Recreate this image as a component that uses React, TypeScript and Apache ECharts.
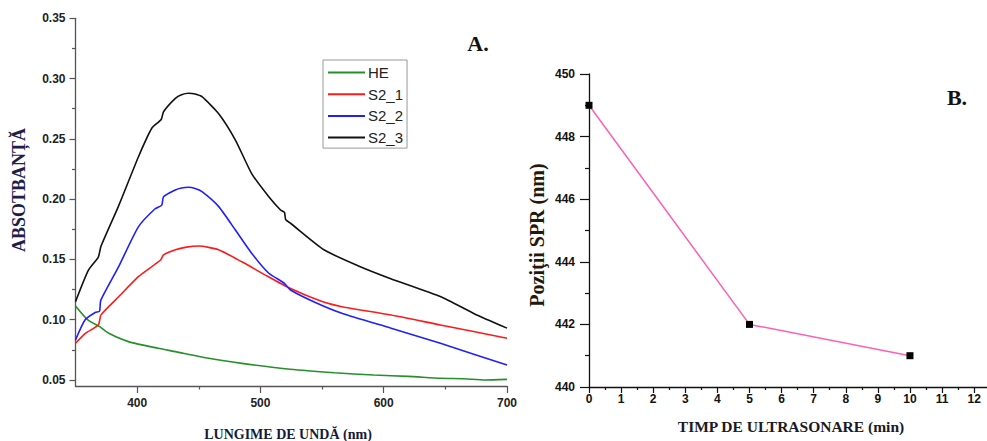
import React, { useEffect, useRef } from "react";
import * as echarts from "echarts";

// ---- Panel A: absorbance spectra ----
const heNm = [350, 360, 370, 377, 393, 417, 431, 458, 485, 524, 560, 592, 620, 646, 665, 682, 700];
const heAbs = [0.1114, 0.0998, 0.094, 0.0887, 0.0818, 0.0763, 0.0735, 0.068, 0.0638, 0.0589, 0.056, 0.0541, 0.053, 0.0514, 0.051, 0.05, 0.0505];

const s21Nm = [350, 358, 368.5, 370.7, 385, 401, 419, 421.4, 431, 440, 450, 466, 485, 504, 524, 550, 566, 606, 646, 700];
const s21Abs = [0.0804, 0.0887, 0.0956, 0.104, 0.119, 0.1357, 0.1495, 0.1537, 0.158, 0.1602, 0.1611, 0.158, 0.148, 0.137, 0.126, 0.115, 0.1108, 0.1039, 0.0956, 0.0846];

const s22Nm = [350, 357.7, 366, 369.5, 370.5, 385, 401, 414.6, 420, 421.4, 431, 436, 441.7, 447, 452.6, 466, 479.7, 493, 506.8, 517.6, 520.5, 524.4, 545, 566, 606, 646, 700];
const s22Abs = [0.0832, 0.0998, 0.106, 0.107, 0.116, 0.144, 0.177, 0.192, 0.195, 0.202, 0.2076, 0.2092, 0.2098, 0.2088, 0.2062, 0.194, 0.1744, 0.155, 0.1385, 0.1315, 0.129, 0.1246, 0.114, 0.1053, 0.0929, 0.0804, 0.0624];

const s23Nm = [350, 360.4, 368.5, 370.7, 384.8, 401, 412, 419.5, 421.4, 431, 436, 441.7, 447, 452.6, 466, 479.7, 493, 506.8, 516.3, 519.5, 520.5, 524.4, 551.5, 578.6, 605.7, 646.3, 673.4, 700];
const s23Abs = [0.115, 0.141, 0.152, 0.161, 0.194, 0.235, 0.259, 0.266, 0.2725, 0.2836, 0.2866, 0.2878, 0.2872, 0.285, 0.271, 0.249, 0.221, 0.202, 0.191, 0.189, 0.183, 0.18, 0.158, 0.145, 0.134, 0.119, 0.105, 0.093];

const absTicks = [0.05, 0.1, 0.15, 0.2, 0.25, 0.3, 0.35];
const absMinorTicks = [0.075, 0.125, 0.175, 0.225, 0.275, 0.325];
const nmTicks = [400, 500, 600, 700];
const nmMinorTicks = [450, 550, 650];

// ---- Panel B: SPR position vs. sonication time ----
const timeMin = [0, 5, 10];
const sprNm = [449, 442, 441];
const sprTicks = [440, 442, 444, 446, 448, 450];
const sprMinorTicks = [441, 443, 445, 447, 449];
const timeTicks = [0, 1, 2, 3, 4, 5, 6, 7, 8, 9, 10, 11, 12];
const timeMinorTicks = [0.5, 1.5, 2.5, 3.5, 4.5, 5.5, 6.5, 7.5, 8.5, 9.5, 10.5, 11.5];

const pairs = (xs: number[], ys: number[]) => xs.map((x, i) => [x, ys[i]]);

const labelFont = {
  fontFamily: "Liberation Sans, Arial, sans-serif",
  fontWeight: "bold" as const,
  fontSize: 12,
  color: "#222",
};
const serif = "Liberation Serif, Times New Roman, serif";

export default function App() {
  const ref = useRef<HTMLDivElement>(null);
  useEffect(() => {
    if (!ref.current) return;
    const chart = echarts.init(ref.current, undefined, { renderer: "svg" });

    const gL = { left: 75.5, top: 18.3, width: 431.5, height: 367.7 };
    const gR = { left: 589, top: 74, width: 398, height: 313 };

    const lineL = { lineStyle: { color: "#555", width: 1.3 } };
    const lineR = { lineStyle: { color: "#111", width: 1.3 } };

    const option: any = {
      animation: false,
      backgroundColor: "#fff",
      grid: [
        { ...gL, containLabel: false },
        { ...gL, containLabel: false },
        { ...gR, containLabel: false },
        { ...gR, containLabel: false },
      ],
      xAxis: [
        {
          gridIndex: 0, type: "value", min: 350, max: 700,
          axisLine: lineL,
          axisTick: { customValues: nmTicks, length: 7, lineStyle: { color: "#555", width: 1.2 } },
          axisLabel: { ...labelFont, customValues: nmTicks, margin: 11 },
          splitLine: { show: false },
        },
        {
          gridIndex: 1, type: "value", min: 350, max: 700,
          axisLine: { show: false },
          axisTick: { customValues: nmMinorTicks, length: 3.5, lineStyle: { color: "#555", width: 1.2 } },
          axisLabel: { show: false },
          splitLine: { show: false },
        },
        {
          gridIndex: 2, type: "value", min: 0, max: 12.4,
          axisLine: lineR,
          axisTick: { customValues: timeTicks, length: 6, lineStyle: { color: "#111", width: 1.2 } },
          axisLabel: { ...labelFont, color: "#111", customValues: timeTicks, margin: 6 },
          splitLine: { show: false },
        },
        {
          gridIndex: 3, type: "value", min: 0, max: 12.4,
          axisLine: { show: false },
          axisTick: { customValues: timeMinorTicks, length: 3, lineStyle: { color: "#111", width: 1.2 } },
          axisLabel: { show: false },
          splitLine: { show: false },
        },
      ],
      yAxis: [
        {
          gridIndex: 0, type: "value", min: 0.045, max: 0.35,
          axisLine: { show: true, ...lineL },
          axisTick: { show: true, customValues: absTicks, length: 6, lineStyle: { color: "#555", width: 1.2 } },
          axisLabel: { ...labelFont, customValues: absTicks, margin: 10, formatter: (v: number) => v.toFixed(2) },
          splitLine: { show: false },
        },
        {
          gridIndex: 1, type: "value", min: 0.045, max: 0.35,
          axisLine: { show: false },
          axisTick: { show: true, customValues: absMinorTicks, length: 3.5, lineStyle: { color: "#555", width: 1.2 } },
          axisLabel: { show: false },
          splitLine: { show: false },
        },
        {
          gridIndex: 2, type: "value", min: 440, max: 450,
          axisLine: { show: true, ...lineR },
          axisTick: { show: true, customValues: sprTicks, length: 9, lineStyle: { color: "#111", width: 1.2 } },
          axisLabel: { ...labelFont, color: "#111", customValues: sprTicks, margin: 14 },
          splitLine: { show: false },
        },
        {
          gridIndex: 3, type: "value", min: 440, max: 450,
          axisLine: { show: false },
          axisTick: { show: true, customValues: sprMinorTicks, length: 4, lineStyle: { color: "#111", width: 1.2 } },
          axisLabel: { show: false },
          splitLine: { show: false },
        },
      ],
      legend: {
        left: 323,
        top: 60,
        orient: "vertical",
        data: ["HE", "S2_1", "S2_2", "S2_3"],
        icon: "rect",
        itemWidth: 37,
        itemHeight: 2,
        itemGap: 6.7,
        padding: [5, 4, 3, 5],
        borderColor: "#999",
        borderWidth: 1,
        textStyle: { fontFamily: "Liberation Sans, Arial, sans-serif", fontSize: 15, color: "#222", padding: [0, 0, 0, -2] },
      },
      series: [
        { name: "HE", type: "line", xAxisIndex: 0, yAxisIndex: 0, data: pairs(heNm, heAbs), symbol: "none", smooth: 0.2, color: "#25902a", lineStyle: { width: 1.6 } },
        { name: "S2_1", type: "line", xAxisIndex: 0, yAxisIndex: 0, data: pairs(s21Nm, s21Abs), symbol: "none", smooth: 0.2, color: "#ff1a1a", lineStyle: { width: 1.6 } },
        { name: "S2_2", type: "line", xAxisIndex: 0, yAxisIndex: 0, data: pairs(s22Nm, s22Abs), symbol: "none", smooth: 0.2, color: "#1f1fff", lineStyle: { width: 1.6 } },
        { name: "S2_3", type: "line", xAxisIndex: 0, yAxisIndex: 0, data: pairs(s23Nm, s23Abs), symbol: "none", smooth: 0.2, color: "#111", lineStyle: { width: 1.6 } },
        {
          name: "SPR", type: "line", xAxisIndex: 2, yAxisIndex: 2, data: pairs(timeMin, sprNm),
          symbol: "rect", symbolSize: 7, itemStyle: { color: "#000" },
          lineStyle: { color: "#ff5fb4", width: 1.5 },
        },
      ],
      graphic: [
        {
          type: "text", x: 19, y: 190, rotation: Math.PI / 2,
          style: { text: "ABSOTBANȚĂ", fontFamily: serif, fontWeight: "bold", fontSize: 18, fill: "#1b2048", align: "center", verticalAlign: "middle", textAlign: "center", textVerticalAlign: "middle" },
        },
        {
          type: "text", x: 288, y: 434,
          style: { text: "LUNGIME DE UNDĂ (nm)", fontFamily: serif, fontWeight: "bold", fontSize: 14, fill: "#151a3a", align: "center", verticalAlign: "middle", textAlign: "center", textVerticalAlign: "middle" },
        },
        {
          type: "text", x: 537, y: 235, rotation: Math.PI / 2,
          style: { text: "Poziţii SPR (nm)", fontFamily: serif, fontWeight: "bold", fontSize: 20, fill: "#24180c", align: "center", verticalAlign: "middle", textAlign: "center", textVerticalAlign: "middle" },
        },
        {
          type: "text", x: 791, y: 426,
          style: { text: "TIMP DE ULTRASONARE (min)", fontFamily: serif, fontWeight: "bold", fontSize: 15.5, fill: "#1a1a22", align: "center", verticalAlign: "middle", textAlign: "center", textVerticalAlign: "middle" },
        },
        {
          type: "text", x: 478, y: 43,
          style: { text: "A.", fontFamily: serif, fontWeight: "bold", fontSize: 22, fill: "#111", align: "center", verticalAlign: "middle", textAlign: "center", textVerticalAlign: "middle" },
        },
        {
          type: "text", x: 957, y: 97,
          style: { text: "B.", fontFamily: serif, fontWeight: "bold", fontSize: 22, fill: "#111", align: "center", verticalAlign: "middle", textAlign: "center", textVerticalAlign: "middle" },
        },
      ],
    };

    chart.setOption(option);
    return () => chart.dispose();
  }, []);

  return (
    <div
      ref={ref}
      style={{ position: "fixed", left: 0, top: 0, width: 987, height: 441, background: "#fff" }}
    />
  );
}
